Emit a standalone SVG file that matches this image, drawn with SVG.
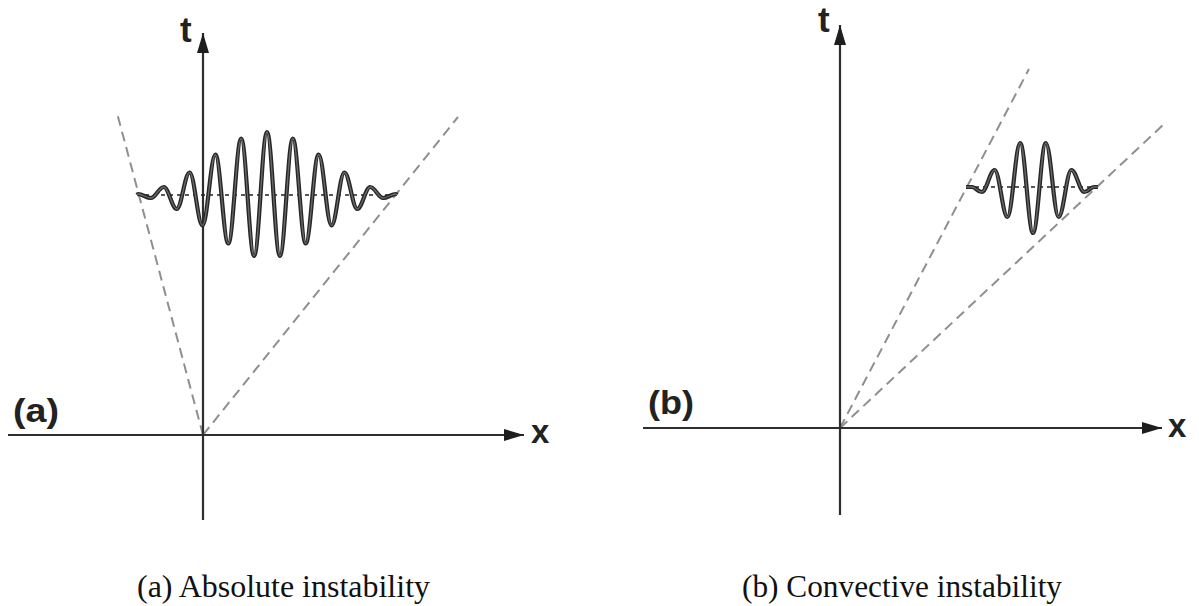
<svg xmlns="http://www.w3.org/2000/svg" width="1199" height="606" viewBox="0 0 1199 606">
<style>
.axis{stroke:#2e2e2e;stroke-width:2.2;fill:none}
.dash{stroke:#8f8f8f;stroke-width:2;fill:none;stroke-dasharray:10 6}
.base{stroke:#222;stroke-width:1.5;fill:none;stroke-dasharray:4 4}
.waveo{stroke:#262626;stroke-width:4.2;fill:none;stroke-linejoin:round}
.wavei{stroke:#6a6a6a;stroke-width:1.3;fill:none;stroke-linejoin:round}
.lab{font-family:"Liberation Sans",Arial,sans-serif;font-weight:bold;fill:#222}
.cap{font-family:"Liberation Serif","Times New Roman",serif;font-size:31px;fill:#111}
</style>
<defs>
<marker id="ah" markerUnits="userSpaceOnUse" markerWidth="22" markerHeight="14" refX="20" refY="6" orient="auto">
<path d="M0,0 L20,6 L0,12 z" fill="#1e1e1e"/>
</marker>
<path id="wa" d="M137,195 L138,194 C142.7,194 146.2,198 150.9,198 C155.6,198 159.1,187 163.8,187 C168.5,187 172,209 176.7,209 C181.4,209 184.9,172.5 189.6,172.5 C194.3,172.5 197.8,225.5 202.5,225.5 C207.2,225.5 210.7,154.5 215.4,154.5 C220.1,154.5 223.6,243.5 228.3,243.5 C233,243.5 236.5,138.5 241.2,138.5 C245.9,138.5 249.4,256 254.1,256 C258.8,256 262.3,132 267,132 C271.7,132 275.2,256 279.9,256 C284.6,256 288.1,138.5 292.8,138.5 C297.5,138.5 301,243.5 305.7,243.5 C310.4,243.5 313.9,154.5 318.6,154.5 C323.3,154.5 326.8,225.5 331.5,225.5 C336.2,225.5 339.7,172.5 344.4,172.5 C349.1,172.5 352.6,209 357.3,209 C362,209 365.5,187 370.2,187 C374.9,187 378.4,198 383.1,198 C387.8,198 391.3,194 396,194 L397,195"/>
<path id="wb" d="M966,187 L972,187 C976,187 977.2,192 981.8,192 C986.5,192 990,170 994.6,170 C999.3,170 1002.8,217 1007.4,217 C1012.1,217 1015.6,143 1020.2,143 C1024.9,143 1028.4,233 1033,233 C1037.7,233 1041.2,143 1045.8,143 C1050.5,143 1054,217 1058.6,217 C1063.3,217 1066.8,170 1071.4,170 C1076.1,170 1079.6,192 1084.2,192 C1088.8,192 1090,187 1094,187 L1098,187"/>
</defs>

<g id="panel-a">
<line class="dash" x1="203" y1="435" x2="117" y2="113"/>
<line class="dash" x1="203" y1="435" x2="458" y2="117"/>
<line class="axis" x1="8" y1="435" x2="524" y2="435" marker-end="url(#ah)"/>
<line class="axis" x1="203" y1="520" x2="203" y2="33" marker-end="url(#ah)"/>
<line class="base" x1="137" y1="195" x2="397" y2="195"/>
<use href="#wa" class="waveo"/>
<use href="#wa" class="wavei"/>
<text class="lab" x="13" y="422" font-size="33" textLength="46" lengthAdjust="spacingAndGlyphs">(a)</text>
<text class="lab" x="531" y="443" font-size="33">x</text>
<text class="lab" x="180" y="42" font-size="35">t</text>
<text class="cap" x="137" y="597" textLength="293" lengthAdjust="spacingAndGlyphs">(a) Absolute instability</text>
</g>

<g id="panel-b">
<line class="dash" x1="840" y1="428" x2="1029" y2="69"/>
<line class="dash" x1="840" y1="428" x2="1163" y2="125"/>
<line class="axis" x1="643" y1="428" x2="1162" y2="428" marker-end="url(#ah)"/>
<line class="axis" x1="840" y1="515" x2="840" y2="25" marker-end="url(#ah)"/>
<line class="base" x1="967" y1="187" x2="1098" y2="187"/>
<use href="#wb" class="waveo"/>
<use href="#wb" class="wavei"/>
<text class="lab" x="648" y="414" font-size="33" textLength="46" lengthAdjust="spacingAndGlyphs">(b)</text>
<text class="lab" x="1168" y="437" font-size="33">x</text>
<text class="lab" x="818" y="32" font-size="35">t</text>
<text class="cap" x="742" y="597" textLength="320" lengthAdjust="spacingAndGlyphs">(b) Convective instability</text>
</g>
</svg>
